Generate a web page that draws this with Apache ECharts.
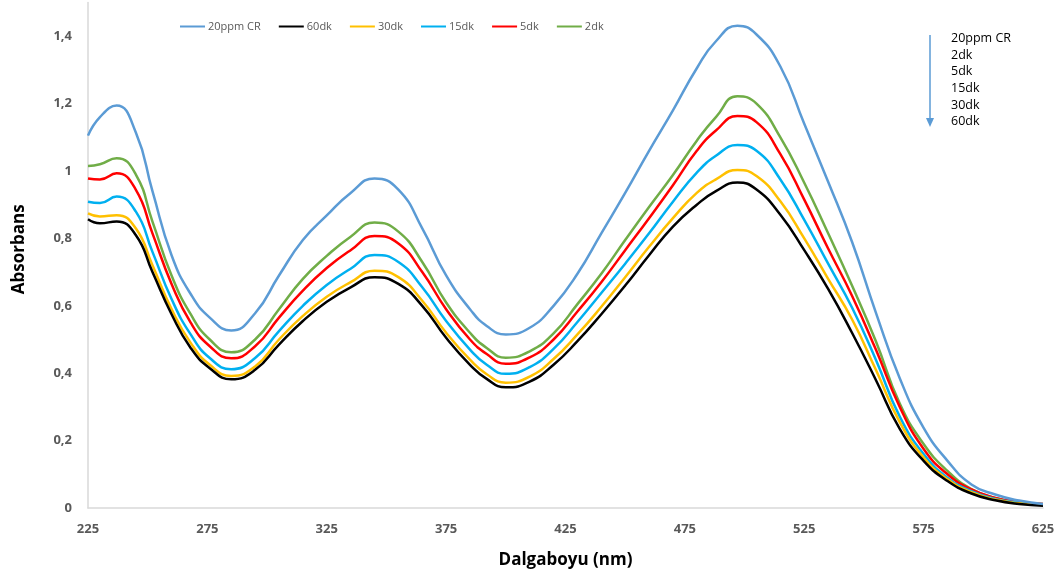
<!DOCTYPE html>
<html>
<head>
<meta charset="utf-8">
<script src="https://cdn.jsdelivr.net/npm/echarts@6/dist/echarts.min.js"></script>
<style>
  html, body { margin: 0; padding: 0; background: #fff; }
  #chart { width: 1062px; height: 581px; }
</style>
</head>
<body>
<div id="chart"></div>
<script>
// Wavelengths (nm) at which absorbance was sampled
const wavelengths = [225, 230, 237, 245, 252, 260, 268, 276, 285, 295, 305, 315, 325, 335, 345, 355, 365, 375, 385, 392, 400, 410, 420, 430, 440, 450, 460, 470, 480, 488, 497, 505, 515, 525, 535, 545, 555, 565, 575, 585, 595, 605, 615, 625];

// Absorbance spectra
const cr20ppm = [1.105, 1.16, 1.194, 1.115, 0.94, 0.75, 0.635, 0.565, 0.527, 0.578, 0.69, 0.795, 0.868, 0.935, 0.978, 0.945, 0.83, 0.69, 0.59, 0.54, 0.515, 0.535, 0.60, 0.695, 0.815, 0.935, 1.06, 1.18, 1.305, 1.385, 1.431, 1.405, 1.31, 1.14, 0.968, 0.79, 0.58, 0.385, 0.238, 0.14, 0.07, 0.04, 0.022, 0.012];
const dk60 = [0.857, 0.845, 0.850, 0.81, 0.70, 0.575, 0.475, 0.415, 0.382, 0.41, 0.485, 0.555, 0.612, 0.655, 0.685, 0.665, 0.60, 0.505, 0.425, 0.383, 0.358, 0.375, 0.425, 0.495, 0.575, 0.66, 0.75, 0.835, 0.90, 0.94, 0.966, 0.945, 0.87, 0.765, 0.65, 0.52, 0.38, 0.235, 0.14, 0.08, 0.043, 0.023, 0.012, 0.007];
const dk30 = [0.874, 0.865, 0.869, 0.83, 0.72, 0.59, 0.49, 0.425, 0.392, 0.42, 0.50, 0.57, 0.627, 0.67, 0.704, 0.685, 0.615, 0.52, 0.44, 0.397, 0.372, 0.39, 0.442, 0.515, 0.597, 0.685, 0.775, 0.86, 0.935, 0.975, 1.003, 0.985, 0.91, 0.80, 0.68, 0.56, 0.41, 0.255, 0.15, 0.085, 0.047, 0.025, 0.014, 0.009];
const dk15 = [0.909, 0.905, 0.924, 0.88, 0.76, 0.62, 0.515, 0.445, 0.412, 0.445, 0.525, 0.60, 0.662, 0.71, 0.751, 0.73, 0.655, 0.555, 0.47, 0.425, 0.398, 0.418, 0.472, 0.552, 0.638, 0.725, 0.815, 0.909, 0.995, 1.045, 1.077, 1.06, 0.975, 0.855, 0.725, 0.595, 0.44, 0.271, 0.16, 0.09, 0.05, 0.027, 0.016, 0.01];
const dk5 = [0.978, 0.975, 0.993, 0.945, 0.815, 0.665, 0.55, 0.48, 0.444, 0.48, 0.565, 0.645, 0.712, 0.765, 0.807, 0.785, 0.70, 0.59, 0.50, 0.457, 0.428, 0.447, 0.50, 0.583, 0.67, 0.765, 0.86, 0.958, 1.06, 1.12, 1.163, 1.145, 1.05, 0.915, 0.77, 0.63, 0.47, 0.30, 0.175, 0.10, 0.055, 0.03, 0.018, 0.012];
const dk2 = [1.015, 1.02, 1.038, 0.99, 0.85, 0.69, 0.575, 0.50, 0.462, 0.50, 0.59, 0.68, 0.748, 0.805, 0.847, 0.82, 0.73, 0.61, 0.52, 0.475, 0.446, 0.465, 0.518, 0.605, 0.695, 0.795, 0.893, 0.988, 1.09, 1.16, 1.222, 1.20, 1.10, 0.965, 0.815, 0.66, 0.495, 0.31, 0.19, 0.11, 0.056, 0.03, 0.017, 0.012];

const seriesNames = ['20ppm CR', '60dk', '30dk', '15dk', '5dk', '2dk'];
const seriesValues = [cr20ppm, dk60, dk30, dk15, dk5, dk2];
const seriesColors = ['#5B9BD5', '#000000', '#FFC000', '#00B0F0', '#FF0000', '#70AD47'];

// Order of the time labels beside the arrow
const orderLabels = ['20ppm CR', '2dk', '5dk', '15dk', '30dk', '60dk'];

const chart = echarts.init(document.getElementById('chart'), null, { renderer: 'canvas' });

const series = seriesNames.map((name, i) => ({
  name: name,
  type: 'line',
  smooth: 0.5,
  showSymbol: false,
  symbol: 'none',
  data: wavelengths.map((w, j) => [w, seriesValues[i][j]]),
  lineStyle: { color: seriesColors[i], width: 2.5 },
  itemStyle: { color: seriesColors[i] },
  z: 10 - i
}));

const labelFont = 'Open Sans, Noto Sans, sans-serif';

chart.setOption({
  animation: false,
  backgroundColor: '#ffffff',
  grid: { left: 88, right: 19, top: 2.5, bottom: 73, containLabel: false },
  legend: {
    data: seriesNames,
    left: 175,
    top: 16,
    icon: 'rect',
    itemWidth: 25,
    itemHeight: 2,
    itemGap: 18,
    textStyle: { fontFamily: labelFont, fontSize: 11, color: '#595959', padding: [0, 0, 0, -2] }
  },
  xAxis: {
    type: 'value',
    min: 225,
    max: 625,
    interval: 50,
    name: 'Dalgaboyu (nm)',
    nameLocation: 'middle',
    nameGap: 44,
    nameTextStyle: { fontFamily: labelFont, fontSize: 17, fontWeight: 'bold', color: '#000' },
    axisLine: { show: true, lineStyle: { color: '#D9D9D9', width: 1.5 } },
    axisTick: { show: false },
    splitLine: { show: false },
    axisLabel: { fontFamily: labelFont, fontSize: 13, fontWeight: 'bold', color: '#595959', margin: 15 }
  },
  yAxis: {
    type: 'value',
    min: 0,
    max: 1.5,
    interval: 0.2,
    name: 'Absorbans',
    nameLocation: 'middle',
    nameGap: 60,
    nameTextStyle: { fontFamily: labelFont, fontSize: 17, fontWeight: 'bold', color: '#000', padding: [0, 0, 0, 12] },
    axisLine: { show: true, lineStyle: { color: '#D9D9D9', width: 1.5 } },
    axisTick: { show: false },
    splitLine: { show: false },
    axisLabel: {
      fontFamily: labelFont, fontSize: 13, fontWeight: 'bold', color: '#595959', margin: 16,
      showMaxLabel: false,
      formatter: v => (Math.round(v * 10) / 10).toString().replace('.', ',')
    }
  },
  graphic: [
    {
      type: 'line',
      shape: { x1: 930, y1: 35, x2: 930, y2: 120 },
      style: { stroke: '#5B9BD5', lineWidth: 1.5 }
    },
    {
      type: 'polygon',
      shape: { points: [[926, 118], [934, 118], [930, 127]] },
      style: { fill: '#5B9BD5' }
    },
    {
      type: 'text',
      left: 951,
      top: 30,
      style: {
        text: orderLabels.join('\n'),
        font: '12.5px "Open Sans", "Noto Sans", sans-serif',
        fill: '#000',
        lineHeight: 16.7
      }
    }
  ],
  series: series
});
</script>
</body>
</html>
